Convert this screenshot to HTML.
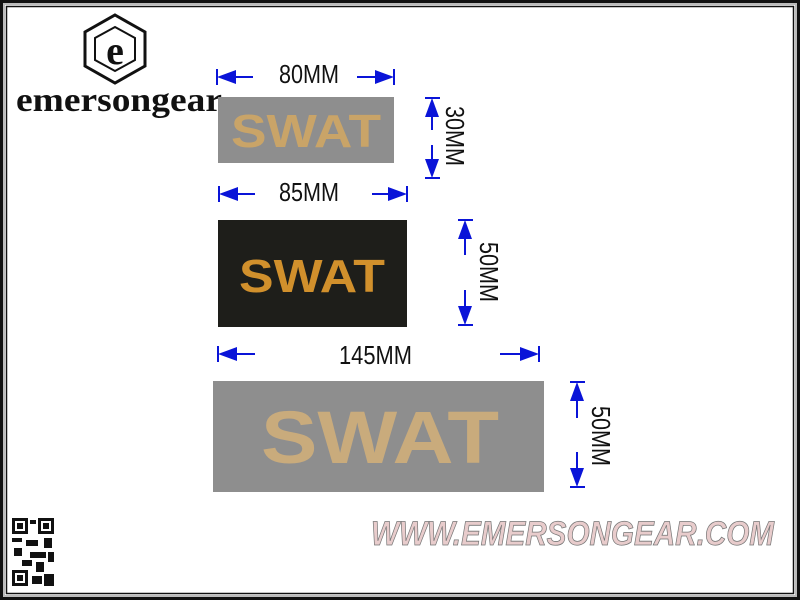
<!DOCTYPE html>
<html><head><style>body{margin:0;background:#fff}svg{display:block}</style></head><body>
<svg width="800" height="600" viewBox="0 0 800 600" xmlns="http://www.w3.org/2000/svg" font-family="Liberation Sans, sans-serif">
<rect width="800" height="600" fill="#fff"/>
<rect x="1.5" y="1.5" width="797" height="597" fill="none" stroke="#111" stroke-width="3"/>
<rect x="4" y="4" width="792" height="592" fill="none" stroke="#bbb" stroke-width="2"/>
<rect x="6.5" y="6.5" width="787" height="587" fill="none" stroke="#111" stroke-width="1.5"/>
<!-- logo -->
<polygon points="115,15 145,32 145,66 115,83 85,66 85,32" fill="none" stroke="#111" stroke-width="3"/>
<polygon points="115,27 135,38 135,60 115,71 95,60 95,38" fill="none" stroke="#111" stroke-width="2"/>
<text x="115" y="64" font-family="Liberation Serif, serif" font-weight="bold" font-size="40" text-anchor="middle" fill="#111">e</text>
<text x="16" y="111" font-family="Liberation Serif, serif" font-weight="bold" font-size="34" fill="#111" textLength="206" lengthAdjust="spacingAndGlyphs">emersongear</text>
<!-- patch 1 -->
<rect x="218" y="97" width="176" height="66" fill="#8e8e8e"/>
<text x="231" y="147" font-weight="bold" font-size="46" fill="#c9a468" textLength="150" lengthAdjust="spacingAndGlyphs">SWAT</text>
<!-- patch 2 -->
<rect x="218" y="220" width="189" height="107" fill="#1e1e1a"/>
<text x="239" y="292" font-weight="bold" font-size="46" fill="#d1902c" textLength="146" lengthAdjust="spacingAndGlyphs">SWAT</text>
<!-- patch 3 -->
<rect x="213" y="381" width="331" height="111" fill="#8e8e8e"/>
<text x="261" y="463" font-weight="bold" font-size="74" fill="#c9ab7c" textLength="238" lengthAdjust="spacingAndGlyphs">SWAT</text>
<g stroke="#0a14d8" stroke-width="2" fill="#0a14d8">
<line x1="217" y1="69" x2="217" y2="85"/><line x1="394" y1="69" x2="394" y2="85"/>
<line x1="230" y1="77" x2="253" y2="77"/><line x1="357" y1="77" x2="380" y2="77"/>
<polygon points="217,77 236,70 236,84" stroke="none"/><polygon points="394,77 375,70 375,84" stroke="none"/>
<line x1="425" y1="98" x2="440" y2="98"/><line x1="425" y1="178" x2="440" y2="178"/>
<line x1="432" y1="110" x2="432" y2="130"/><line x1="432" y1="145" x2="432" y2="165"/>
<polygon points="432,98 425,117 439,117" stroke="none"/><polygon points="432,178 425,159 439,159" stroke="none"/>
<line x1="219" y1="186" x2="219" y2="202"/><line x1="407" y1="186" x2="407" y2="202"/>
<line x1="230" y1="194" x2="255" y2="194"/><line x1="372" y1="194" x2="395" y2="194"/>
<polygon points="219,194 238,187 238,201" stroke="none"/><polygon points="407,194 388,187 388,201" stroke="none"/>
<line x1="458" y1="220" x2="473" y2="220"/><line x1="458" y1="325" x2="473" y2="325"/>
<line x1="465" y1="232" x2="465" y2="255"/><line x1="465" y1="290" x2="465" y2="312"/>
<polygon points="465,220 458,239 472,239" stroke="none"/><polygon points="465,325 458,306 472,306" stroke="none"/>
<line x1="218" y1="346" x2="218" y2="362"/><line x1="539" y1="346" x2="539" y2="362"/>
<line x1="230" y1="354" x2="255" y2="354"/><line x1="500" y1="354" x2="527" y2="354"/>
<polygon points="218,354 237,347 237,361" stroke="none"/><polygon points="539,354 520,347 520,361" stroke="none"/>
<line x1="570" y1="382" x2="585" y2="382"/><line x1="570" y1="487" x2="585" y2="487"/>
<line x1="577" y1="394" x2="577" y2="418"/><line x1="577" y1="452" x2="577" y2="475"/>
<polygon points="577,382 570,401 584,401" stroke="none"/><polygon points="577,487 570,468 584,468" stroke="none"/>
</g>
<g font-size="26" fill="#111">
<text x="279" y="83" textLength="60" lengthAdjust="spacingAndGlyphs">80MM</text>
<text x="279" y="201" textLength="60" lengthAdjust="spacingAndGlyphs">85MM</text>
<text x="339" y="364" textLength="73" lengthAdjust="spacingAndGlyphs">145MM</text>
<text transform="translate(446,106) rotate(90)" textLength="60" lengthAdjust="spacingAndGlyphs">30MM</text>
<text transform="translate(480,242) rotate(90)" textLength="60" lengthAdjust="spacingAndGlyphs">50MM</text>
<text transform="translate(592,406) rotate(90)" textLength="60" lengthAdjust="spacingAndGlyphs">50MM</text>
</g>
<g fill="#111">
<rect x="12" y="518" width="16" height="16"/><rect x="15" y="521" width="10" height="10" fill="#fff"/><rect x="17" y="523" width="6" height="6"/>
<rect x="38" y="518" width="16" height="16"/><rect x="41" y="521" width="10" height="10" fill="#fff"/><rect x="43" y="523" width="6" height="6"/>
<rect x="12" y="570" width="16" height="16"/><rect x="15" y="573" width="10" height="10" fill="#fff"/><rect x="17" y="575" width="6" height="6"/>
<rect x="30" y="520" width="6" height="4"/><rect x="12" y="538" width="10" height="4"/><rect x="26" y="540" width="12" height="6"/><rect x="44" y="538" width="8" height="10"/>
<rect x="14" y="548" width="8" height="8"/><rect x="30" y="552" width="16" height="6"/><rect x="48" y="552" width="6" height="10"/>
<rect x="22" y="560" width="10" height="6"/><rect x="36" y="562" width="8" height="10"/><rect x="32" y="576" width="10" height="8"/><rect x="44" y="574" width="10" height="12"/>
</g>
<text x="371" y="545" font-weight="bold" font-style="italic" font-size="34" fill="#e8cccc" stroke="#777" stroke-width="0.8" textLength="403" lengthAdjust="spacingAndGlyphs">WWW.EMERSONGEAR.COM</text>
</svg>
</body></html>
